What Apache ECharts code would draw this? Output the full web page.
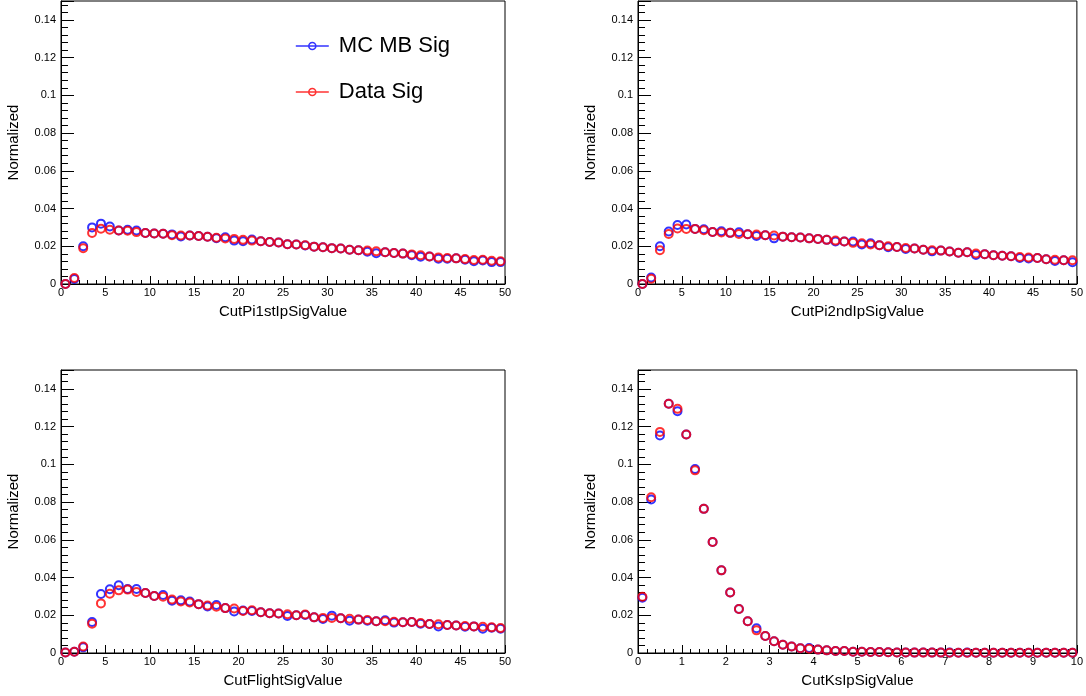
<!DOCTYPE html>
<html><head><meta charset="utf-8">
<script src="https://cdn.jsdelivr.net/npm/echarts@6/dist/echarts.min.js"></script>
<style>html,body{margin:0;padding:0;background:#fff}#c{width:1086px;height:696px}</style>
</head><body><div id="c"></div>
<script>
const seriesNames = ['MC MB Sig', 'Data Sig'];
const seriesColors = ['#0000ff', '#ff0000'];
const xTitles = ['CutPi1stIpSigValue', 'CutPi2ndIpSigValue', 'CutFlightSigValue', 'CutKsIpSigValue'];
const yTitle = 'Normalized';
const xRanges = [[0, 50], [0, 50], [0, 50], [0, 10]];
const xIntervals = [5, 5, 5, 1];
const yRange = [0, 0.15];
const yInterval = 0.02;
const nBins = 50;

const pi1MC = [0.0000,0.0027,0.0200,0.0300,0.0320,0.0305,0.0284,0.0288,0.0284,0.0270,
  0.0268,0.0266,0.0263,0.0252,0.0257,0.0254,0.0250,0.0243,0.0248,0.0230,
  0.0227,0.0236,0.0227,0.0223,0.0220,0.0211,0.0209,0.0204,0.0198,0.0195,
  0.0190,0.0188,0.0182,0.0179,0.0171,0.0163,0.0168,0.0164,0.0161,0.0152,
  0.0145,0.0146,0.0134,0.0134,0.0136,0.0129,0.0121,0.0125,0.0116,0.0116];
const pi1Data = [0.0000,0.0032,0.0190,0.0270,0.0293,0.0288,0.0284,0.0282,0.0275,0.0270,
  0.0268,0.0266,0.0259,0.0257,0.0257,0.0254,0.0250,0.0245,0.0241,0.0239,
  0.0234,0.0230,0.0227,0.0223,0.0220,0.0211,0.0209,0.0205,0.0198,0.0195,
  0.0190,0.0188,0.0182,0.0179,0.0177,0.0173,0.0168,0.0164,0.0161,0.0157,
  0.0152,0.0146,0.0141,0.0138,0.0136,0.0132,0.0127,0.0129,0.0123,0.0121];

const pi2MC = [0.0000,0.0034,0.0200,0.0278,0.0313,0.0315,0.0292,0.0290,0.0276,0.0280,
  0.0271,0.0274,0.0264,0.0255,0.0258,0.0242,0.0251,0.0248,0.0246,0.0242,
  0.0239,0.0234,0.0225,0.0225,0.0225,0.0209,0.0216,0.0205,0.0195,0.0196,
  0.0186,0.0188,0.0182,0.0173,0.0177,0.0172,0.0166,0.0168,0.0154,0.0158,
  0.0152,0.0150,0.0147,0.0138,0.0135,0.0138,0.0131,0.0122,0.0126,0.0115];
const pi2Data = [0.0000,0.0028,0.0179,0.0265,0.0294,0.0292,0.0292,0.0285,0.0276,0.0273,
  0.0271,0.0265,0.0264,0.0262,0.0258,0.0257,0.0251,0.0248,0.0246,0.0242,
  0.0239,0.0234,0.0230,0.0225,0.0218,0.0216,0.0209,0.0205,0.0200,0.0196,
  0.0191,0.0188,0.0182,0.0179,0.0177,0.0172,0.0166,0.0168,0.0161,0.0158,
  0.0152,0.0150,0.0147,0.0143,0.0140,0.0138,0.0131,0.0129,0.0126,0.0126];

const flightMC = [0.0003,0.0007,0.0030,0.0164,0.0313,0.0338,0.0359,0.0339,0.0339,0.0318,
  0.0302,0.0307,0.0277,0.0279,0.0273,0.0259,0.0246,0.0254,0.0238,0.0220,
  0.0225,0.0223,0.0216,0.0211,0.0209,0.0196,0.0200,0.0202,0.0189,0.0180,
  0.0198,0.0184,0.0171,0.0177,0.0171,0.0168,0.0173,0.0161,0.0163,0.0164,
  0.0155,0.0154,0.0141,0.0148,0.0146,0.0139,0.0141,0.0129,0.0134,0.0129];
const flightData = [0.0003,0.0007,0.0034,0.0155,0.0263,0.0314,0.0332,0.0336,0.0323,0.0318,
  0.0302,0.0298,0.0284,0.0273,0.0268,0.0259,0.0252,0.0245,0.0238,0.0236,
  0.0223,0.0227,0.0216,0.0211,0.0209,0.0205,0.0200,0.0204,0.0189,0.0186,
  0.0186,0.0184,0.0182,0.0177,0.0175,0.0168,0.0168,0.0166,0.0163,0.0164,
  0.0159,0.0154,0.0152,0.0148,0.0146,0.0143,0.0141,0.0139,0.0136,0.0132];

const ksMC = [0.0293,0.0814,0.1153,0.1321,0.1282,0.1158,0.0975,0.0764,0.0588,0.0438,
  0.0321,0.0233,0.0168,0.0131,0.0090,0.0062,0.0044,0.0034,0.0025,0.0026,
  0.0018,0.0014,0.0011,0.0011,0.0007,0.0007,0.0005,0.0005,0.0004,0.0003,
  0.0003,0.0002,0.0003,0.0002,0.0002,0.0002,0.0001,0.0002,0.0001,0.0001,
  0.0001,0.0001,0.0001,0.0001,0.0001,0.0001,0.0001,0.0001,0.0001,0.0001];
const ksData = [0.0298,0.0826,0.1172,0.1321,0.1294,0.1158,0.0968,0.0764,0.0588,0.0438,
  0.0321,0.0233,0.0168,0.0120,0.0090,0.0062,0.0044,0.0034,0.0025,0.0023,
  0.0018,0.0014,0.0011,0.0011,0.0007,0.0007,0.0005,0.0005,0.0004,0.0003,
  0.0003,0.0002,0.0002,0.0002,0.0002,0.0001,0.0001,0.0001,0.0001,0.0001,
  0.0001,0.0001,0.0001,0.0001,0.0001,0.0001,0.0001,0.0001,0.0001,0.0001];

const panelValues = [[pi1MC, pi1Data], [pi2MC, pi2Data], [flightMC, flightData], [ksMC, ksData]];

const FONT = "'Liberation Sans', Arial, Helvetica, sans-serif";
const grids = [
  {left: 61, top: 1, width: 444, height: 283},
  {left: 638, top: 1, width: 442, height: 283},
  {left: 61, top: 370, width: 444, height: 283},
  {left: 638, top: 370, width: 442, height: 283}
].map(g => Object.assign(g, {show: true, borderColor: '#000', borderWidth: 1, backgroundColor: 'transparent'}));

const xAxes = [], yAxes = [], series = [];
for (let i = 0; i < 4; i++) {
  xAxes.push({
    gridIndex: i, type: 'value', min: xRanges[i][0], max: xRanges[i][1], interval: xIntervals[i],
    axisLine: {show: true, onZero: false, lineStyle: {color: '#000', width: 1}},
    axisTick: {show: true, inside: true, length: 8, lineStyle: {color: '#000', width: 1}},
    minorTick: {show: true, splitNumber: 5, length: 4, lineStyle: {color: '#000', width: 1}},
    splitLine: {show: false}, minorSplitLine: {show: false},
    axisLabel: {color: '#000', fontSize: 11, fontFamily: FONT, margin: 3, hideOverlap: false},
    name: xTitles[i], nameLocation: 'middle', nameGap: 20,
    nameTextStyle: {color: '#000', fontSize: 15, fontFamily: FONT}
  });
  yAxes.push({
    gridIndex: i, type: 'value', min: yRange[0], max: yRange[1], interval: yInterval,
    axisLine: {show: true, onZero: false, lineStyle: {color: '#000', width: 1}},
    axisTick: {show: true, inside: true, length: 13, lineStyle: {color: '#000', width: 1}},
    minorTick: {show: true, splitNumber: 5, length: 7, lineStyle: {color: '#000', width: 1}},
    splitLine: {show: false}, minorSplitLine: {show: false},
    axisLabel: {color: '#000', fontSize: 11, fontFamily: FONT, margin: 5, showMaxLabel: false, hideOverlap: false},
    name: yTitle, nameLocation: 'middle', nameGap: 40,
    nameTextStyle: {color: '#000', fontSize: 15, fontFamily: FONT}
  });
  const lo = xRanges[i][0], w = (xRanges[i][1] - xRanges[i][0]) / nBins;
  for (let s = 0; s < 2; s++) {
    const vals = panelValues[i][s];
    series.push({
      type: 'scatter', name: seriesNames[s], xAxisIndex: i, yAxisIndex: i,
      data: vals.map((v, k) => [lo + (k + 0.5) * w, v]),
      symbol: 'circle', symbolSize: 8, z: 2 + s,
      itemStyle: {color: 'rgba(0,0,0,0)', borderColor: seriesColors[s], borderWidth: 2},
      emphasis: {disabled: true}, silent: true
    });
  }
}

const chart = echarts.init(document.getElementById('c'), null, {renderer: 'canvas'});
chart.setOption({
  animation: false,
  backgroundColor: '#fff',
  grid: grids,
  xAxis: xAxes,
  yAxis: yAxes,
  legend: {
    orient: 'vertical', left: 290, top: 30, itemGap: 24, itemWidth: 33, itemHeight: 7,
    icon: 'path://M0,3.5L33,3.5M20,3.5A3.5,3.5,0,1,1,13,3.5A3.5,3.5,0,1,1,20,3.5',
    data: seriesNames.map((n, s) => ({name: n, itemStyle: {color: 'rgba(0,0,0,0)', borderColor: seriesColors[s], borderWidth: 1.6}})),
    textStyle: {color: '#000', fontSize: 22, fontFamily: FONT, padding: [0, 0, 0, 5]},
    selectedMode: false
  },
  series: series
});
</script>
</body></html>
